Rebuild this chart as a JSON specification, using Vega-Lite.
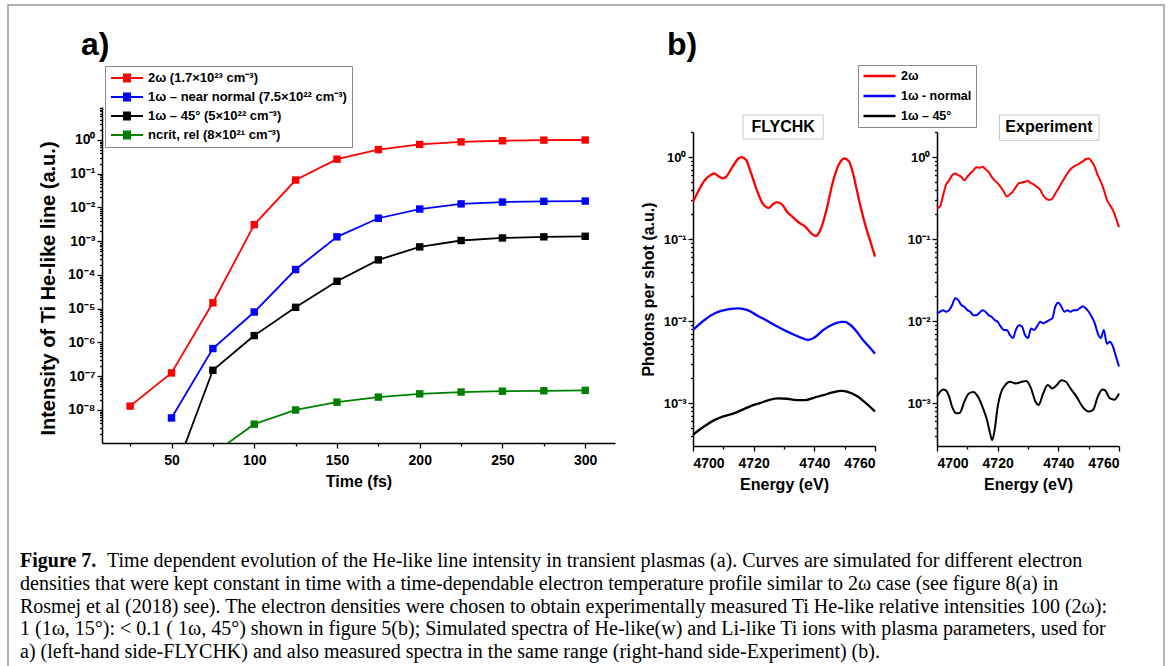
{
  "$schema": "https://vega.github.io/schema/vega-lite/v6.json",
  "background": "white",
  "padding": {"left": 7, "top": 4, "right": 7, "bottom": 0},
  "config": {
    "font": "Liberation Sans",
    "view": {"stroke": null},
    "axis": {"grid": false, "domainColor": "#000", "domainWidth": 1.5, "tickColor": "#000", "tickWidth": 1.3, "labelColor": "#000", "labelFont": "Liberation Sans", "labelFontWeight": "bold", "labelFontSize": 14, "titleColor": "#000", "titleFont": "Liberation Sans", "titleFontWeight": "bold", "titleFontSize": 16, "labelOverlap": false},
    "legend": {"labelFont": "Liberation Sans", "labelFontWeight": "bold", "labelFontSize": 12.5, "labelColor": "#000", "labelLimit": 400, "fillColor": "white", "strokeColor": "#8a8a8a", "strokeWidth": 1},
    "title": {"color": "#000", "font": "Liberation Sans"}
  },
  "datasets": {
    "a": [
      {"t": 25, "v": 1.3e-8, "s": "2ω (1.7×10²³ cm⁻³)"},
      {"t": 50, "v": 1.25e-7, "s": "2ω (1.7×10²³ cm⁻³)"},
      {"t": 75, "v": 1.5e-5, "s": "2ω (1.7×10²³ cm⁻³)"},
      {"t": 100, "v": 3.1e-3, "s": "2ω (1.7×10²³ cm⁻³)"},
      {"t": 125, "v": 0.065, "s": "2ω (1.7×10²³ cm⁻³)"},
      {"t": 150, "v": 0.27, "s": "2ω (1.7×10²³ cm⁻³)"},
      {"t": 175, "v": 0.52, "s": "2ω (1.7×10²³ cm⁻³)"},
      {"t": 200, "v": 0.74, "s": "2ω (1.7×10²³ cm⁻³)"},
      {"t": 225, "v": 0.88, "s": "2ω (1.7×10²³ cm⁻³)"},
      {"t": 250, "v": 0.95, "s": "2ω (1.7×10²³ cm⁻³)"},
      {"t": 275, "v": 0.99, "s": "2ω (1.7×10²³ cm⁻³)"},
      {"t": 300, "v": 1.0, "s": "2ω (1.7×10²³ cm⁻³)"},
      {"t": 50, "v": 5.8e-9, "s": "1ω – near normal (7.5×10²² cm⁻³)"},
      {"t": 75, "v": 6.6e-7, "s": "1ω – near normal (7.5×10²² cm⁻³)"},
      {"t": 100, "v": 8e-6, "s": "1ω – near normal (7.5×10²² cm⁻³)"},
      {"t": 125, "v": 1.45e-4, "s": "1ω – near normal (7.5×10²² cm⁻³)"},
      {"t": 150, "v": 1.35e-3, "s": "1ω – near normal (7.5×10²² cm⁻³)"},
      {"t": 175, "v": 4.8e-3, "s": "1ω – near normal (7.5×10²² cm⁻³)"},
      {"t": 200, "v": 9e-3, "s": "1ω – near normal (7.5×10²² cm⁻³)"},
      {"t": 225, "v": 0.0128, "s": "1ω – near normal (7.5×10²² cm⁻³)"},
      {"t": 250, "v": 0.0145, "s": "1ω – near normal (7.5×10²² cm⁻³)"},
      {"t": 275, "v": 0.0152, "s": "1ω – near normal (7.5×10²² cm⁻³)"},
      {"t": 300, "v": 0.0155, "s": "1ω – near normal (7.5×10²² cm⁻³)"},
      {"t": 50, "v": 8e-11, "s": "1ω – 45° (5×10²² cm⁻³)"},
      {"t": 75, "v": 1.5e-7, "s": "1ω – 45° (5×10²² cm⁻³)"},
      {"t": 100, "v": 1.6e-6, "s": "1ω – 45° (5×10²² cm⁻³)"},
      {"t": 125, "v": 1.1e-5, "s": "1ω – 45° (5×10²² cm⁻³)"},
      {"t": 150, "v": 6.5e-5, "s": "1ω – 45° (5×10²² cm⁻³)"},
      {"t": 175, "v": 2.8e-4, "s": "1ω – 45° (5×10²² cm⁻³)"},
      {"t": 200, "v": 6.8e-4, "s": "1ω – 45° (5×10²² cm⁻³)"},
      {"t": 225, "v": 1.05e-3, "s": "1ω – 45° (5×10²² cm⁻³)"},
      {"t": 250, "v": 1.25e-3, "s": "1ω – 45° (5×10²² cm⁻³)"},
      {"t": 275, "v": 1.35e-3, "s": "1ω – 45° (5×10²² cm⁻³)"},
      {"t": 300, "v": 1.4e-3, "s": "1ω – 45° (5×10²² cm⁻³)"},
      {"t": 75, "v": 5e-10, "s": "ncrit, rel (8×10²¹ cm⁻³)"},
      {"t": 100, "v": 3.8e-9, "s": "ncrit, rel (8×10²¹ cm⁻³)"},
      {"t": 125, "v": 1.0e-8, "s": "ncrit, rel (8×10²¹ cm⁻³)"},
      {"t": 150, "v": 1.7e-8, "s": "ncrit, rel (8×10²¹ cm⁻³)"},
      {"t": 175, "v": 2.4e-8, "s": "ncrit, rel (8×10²¹ cm⁻³)"},
      {"t": 200, "v": 3.0e-8, "s": "ncrit, rel (8×10²¹ cm⁻³)"},
      {"t": 225, "v": 3.4e-8, "s": "ncrit, rel (8×10²¹ cm⁻³)"},
      {"t": 250, "v": 3.6e-8, "s": "ncrit, rel (8×10²¹ cm⁻³)"},
      {"t": 275, "v": 3.7e-8, "s": "ncrit, rel (8×10²¹ cm⁻³)"},
      {"t": 300, "v": 3.8e-8, "s": "ncrit, rel (8×10²¹ cm⁻³)"}
    ],
    "fly": [
      {"E": 4700, "v": 0.285, "s": "2ω"}, {"E": 4702, "v": 0.40, "s": "2ω"}, {"E": 4704, "v": 0.53, "s": "2ω"}, {"E": 4706, "v": 0.61, "s": "2ω"}, {"E": 4707, "v": 0.63, "s": "2ω"}, {"E": 4708.5, "v": 0.58, "s": "2ω"}, {"E": 4710, "v": 0.55, "s": "2ω"}, {"E": 4711, "v": 0.58, "s": "2ω"}, {"E": 4713, "v": 0.76, "s": "2ω"}, {"E": 4715, "v": 0.96, "s": "2ω"}, {"E": 4716, "v": 1.0, "s": "2ω"}, {"E": 4717.5, "v": 0.92, "s": "2ω"}, {"E": 4719, "v": 0.66, "s": "2ω"}, {"E": 4721, "v": 0.40, "s": "2ω"}, {"E": 4723, "v": 0.27, "s": "2ω"}, {"E": 4725, "v": 0.24, "s": "2ω"}, {"E": 4726.5, "v": 0.27, "s": "2ω"}, {"E": 4728, "v": 0.28, "s": "2ω"}, {"E": 4729.5, "v": 0.26, "s": "2ω"}, {"E": 4731, "v": 0.215, "s": "2ω"}, {"E": 4733, "v": 0.184, "s": "2ω"}, {"E": 4735, "v": 0.158, "s": "2ω"}, {"E": 4737, "v": 0.142, "s": "2ω"}, {"E": 4739, "v": 0.117, "s": "2ω"}, {"E": 4740.5, "v": 0.109, "s": "2ω"}, {"E": 4742, "v": 0.129, "s": "2ω"}, {"E": 4744, "v": 0.226, "s": "2ω"}, {"E": 4746, "v": 0.48, "s": "2ω"}, {"E": 4748, "v": 0.80, "s": "2ω"}, {"E": 4750, "v": 0.96, "s": "2ω"}, {"E": 4751.5, "v": 0.88, "s": "2ω"}, {"E": 4753, "v": 0.58, "s": "2ω"}, {"E": 4755, "v": 0.27, "s": "2ω"}, {"E": 4757, "v": 0.14, "s": "2ω"}, {"E": 4759, "v": 0.081, "s": "2ω"}, {"E": 4760, "v": 0.061, "s": "2ω"},
      {"E": 4700, "v": 0.0078, "s": "1ω - normal"}, {"E": 4703, "v": 0.0098, "s": "1ω - normal"}, {"E": 4706, "v": 0.0118, "s": "1ω - normal"}, {"E": 4709, "v": 0.0132, "s": "1ω - normal"}, {"E": 4712, "v": 0.014, "s": "1ω - normal"}, {"E": 4715, "v": 0.0143, "s": "1ω - normal"}, {"E": 4718, "v": 0.0136, "s": "1ω - normal"}, {"E": 4721, "v": 0.0118, "s": "1ω - normal"}, {"E": 4724, "v": 0.0103, "s": "1ω - normal"}, {"E": 4727, "v": 0.0089, "s": "1ω - normal"}, {"E": 4730, "v": 0.0078, "s": "1ω - normal"}, {"E": 4733, "v": 0.0069, "s": "1ω - normal"}, {"E": 4736, "v": 0.0062, "s": "1ω - normal"}, {"E": 4738, "v": 0.0059, "s": "1ω - normal"}, {"E": 4740, "v": 0.0063, "s": "1ω - normal"}, {"E": 4743, "v": 0.0078, "s": "1ω - normal"}, {"E": 4746, "v": 0.0091, "s": "1ω - normal"}, {"E": 4749, "v": 0.0098, "s": "1ω - normal"}, {"E": 4750, "v": 0.0098, "s": "1ω - normal"}, {"E": 4752, "v": 0.0089, "s": "1ω - normal"}, {"E": 4754, "v": 0.0074, "s": "1ω - normal"}, {"E": 4756, "v": 0.0059, "s": "1ω - normal"}, {"E": 4758, "v": 0.0049, "s": "1ω - normal"}, {"E": 4760, "v": 0.0040, "s": "1ω - normal"},
      {"E": 4700, "v": 4.1e-4, "s": "1ω – 45°"}, {"E": 4702, "v": 4.7e-4, "s": "1ω – 45°"}, {"E": 4704, "v": 5.3e-4, "s": "1ω – 45°"}, {"E": 4707, "v": 6.2e-4, "s": "1ω – 45°"}, {"E": 4710, "v": 6.9e-4, "s": "1ω – 45°"}, {"E": 4713, "v": 7.4e-4, "s": "1ω – 45°"}, {"E": 4716, "v": 8.2e-4, "s": "1ω – 45°"}, {"E": 4719, "v": 9.2e-4, "s": "1ω – 45°"}, {"E": 4722, "v": 1.0e-3, "s": "1ω – 45°"}, {"E": 4725, "v": 1.09e-3, "s": "1ω – 45°"}, {"E": 4728, "v": 1.14e-3, "s": "1ω – 45°"}, {"E": 4731, "v": 1.13e-3, "s": "1ω – 45°"}, {"E": 4734, "v": 1.09e-3, "s": "1ω – 45°"}, {"E": 4737, "v": 1.09e-3, "s": "1ω – 45°"}, {"E": 4740, "v": 1.17e-3, "s": "1ω – 45°"}, {"E": 4743, "v": 1.25e-3, "s": "1ω – 45°"}, {"E": 4746, "v": 1.35e-3, "s": "1ω – 45°"}, {"E": 4749, "v": 1.41e-3, "s": "1ω – 45°"}, {"E": 4751, "v": 1.37e-3, "s": "1ω – 45°"}, {"E": 4754, "v": 1.22e-3, "s": "1ω – 45°"}, {"E": 4757, "v": 1.0e-3, "s": "1ω – 45°"}, {"E": 4760, "v": 7.9e-4, "s": "1ω – 45°"}
    ],
    "exp": [
      {"E": 4700, "v": 0.236, "s": "2ω"}, {"E": 4701, "v": 0.25, "s": "2ω"}, {"E": 4702, "v": 0.34, "s": "2ω"}, {"E": 4703, "v": 0.46, "s": "2ω"}, {"E": 4704, "v": 0.52, "s": "2ω"}, {"E": 4705, "v": 0.60, "s": "2ω"}, {"E": 4706, "v": 0.63, "s": "2ω"}, {"E": 4707, "v": 0.60, "s": "2ω"}, {"E": 4708, "v": 0.575, "s": "2ω"}, {"E": 4709, "v": 0.52, "s": "2ω"}, {"E": 4710, "v": 0.575, "s": "2ω"}, {"E": 4711, "v": 0.63, "s": "2ω"}, {"E": 4712, "v": 0.69, "s": "2ω"}, {"E": 4713, "v": 0.75, "s": "2ω"}, {"E": 4714, "v": 0.74, "s": "2ω"}, {"E": 4715, "v": 0.76, "s": "2ω"}, {"E": 4716, "v": 0.71, "s": "2ω"}, {"E": 4717, "v": 0.66, "s": "2ω"}, {"E": 4718, "v": 0.575, "s": "2ω"}, {"E": 4719, "v": 0.52, "s": "2ω"}, {"E": 4720, "v": 0.48, "s": "2ω"}, {"E": 4721, "v": 0.43, "s": "2ω"}, {"E": 4722, "v": 0.38, "s": "2ω"}, {"E": 4723, "v": 0.33, "s": "2ω"}, {"E": 4724, "v": 0.35, "s": "2ω"}, {"E": 4725, "v": 0.38, "s": "2ω"}, {"E": 4726, "v": 0.43, "s": "2ω"}, {"E": 4727, "v": 0.48, "s": "2ω"}, {"E": 4728, "v": 0.49, "s": "2ω"}, {"E": 4729, "v": 0.50, "s": "2ω"}, {"E": 4730, "v": 0.51, "s": "2ω"}, {"E": 4731, "v": 0.48, "s": "2ω"}, {"E": 4732, "v": 0.46, "s": "2ω"}, {"E": 4733, "v": 0.43, "s": "2ω"}, {"E": 4734, "v": 0.40, "s": "2ω"}, {"E": 4735, "v": 0.34, "s": "2ω"}, {"E": 4736, "v": 0.31, "s": "2ω"}, {"E": 4737, "v": 0.30, "s": "2ω"}, {"E": 4738, "v": 0.31, "s": "2ω"}, {"E": 4739, "v": 0.36, "s": "2ω"}, {"E": 4740, "v": 0.41, "s": "2ω"}, {"E": 4741, "v": 0.48, "s": "2ω"}, {"E": 4742, "v": 0.55, "s": "2ω"}, {"E": 4743, "v": 0.63, "s": "2ω"}, {"E": 4744, "v": 0.71, "s": "2ω"}, {"E": 4745, "v": 0.76, "s": "2ω"}, {"E": 4746, "v": 0.80, "s": "2ω"}, {"E": 4747, "v": 0.84, "s": "2ω"}, {"E": 4748, "v": 0.88, "s": "2ω"}, {"E": 4749, "v": 0.94, "s": "2ω"}, {"E": 4750, "v": 0.96, "s": "2ω"}, {"E": 4751, "v": 0.88, "s": "2ω"}, {"E": 4752, "v": 0.76, "s": "2ω"}, {"E": 4753, "v": 0.60, "s": "2ω"}, {"E": 4754, "v": 0.50, "s": "2ω"}, {"E": 4755, "v": 0.40, "s": "2ω"}, {"E": 4756, "v": 0.30, "s": "2ω"}, {"E": 4757, "v": 0.26, "s": "2ω"}, {"E": 4758, "v": 0.225, "s": "2ω"}, {"E": 4759, "v": 0.18, "s": "2ω"}, {"E": 4760, "v": 0.14, "s": "2ω"},
      {"E": 4700, "v": 0.0124, "s": "1ω - normal"}, {"E": 4701, "v": 0.013, "s": "1ω - normal"}, {"E": 4702, "v": 0.0136, "s": "1ω - normal"}, {"E": 4703, "v": 0.013, "s": "1ω - normal"}, {"E": 4704, "v": 0.0136, "s": "1ω - normal"}, {"E": 4705, "v": 0.0157, "s": "1ω - normal"}, {"E": 4706, "v": 0.019, "s": "1ω - normal"}, {"E": 4707, "v": 0.018, "s": "1ω - normal"}, {"E": 4708, "v": 0.0157, "s": "1ω - normal"}, {"E": 4709, "v": 0.015, "s": "1ω - normal"}, {"E": 4710, "v": 0.0136, "s": "1ω - normal"}, {"E": 4711, "v": 0.013, "s": "1ω - normal"}, {"E": 4712, "v": 0.0118, "s": "1ω - normal"}, {"E": 4713, "v": 0.0118, "s": "1ω - normal"}, {"E": 4714, "v": 0.0126, "s": "1ω - normal"}, {"E": 4715, "v": 0.0136, "s": "1ω - normal"}, {"E": 4716, "v": 0.013, "s": "1ω - normal"}, {"E": 4717, "v": 0.0118, "s": "1ω - normal"}, {"E": 4718, "v": 0.0113, "s": "1ω - normal"}, {"E": 4719, "v": 0.0103, "s": "1ω - normal"}, {"E": 4720, "v": 0.0098, "s": "1ω - normal"}, {"E": 4721, "v": 0.0086, "s": "1ω - normal"}, {"E": 4722, "v": 0.0078, "s": "1ω - normal"}, {"E": 4723, "v": 0.0078, "s": "1ω - normal"}, {"E": 4724, "v": 0.0068, "s": "1ω - normal"}, {"E": 4725, "v": 0.0062, "s": "1ω - normal"}, {"E": 4726, "v": 0.0078, "s": "1ω - normal"}, {"E": 4727, "v": 0.0089, "s": "1ω - normal"}, {"E": 4728, "v": 0.0086, "s": "1ω - normal"}, {"E": 4729, "v": 0.0068, "s": "1ω - normal"}, {"E": 4730, "v": 0.0062, "s": "1ω - normal"}, {"E": 4731, "v": 0.0081, "s": "1ω - normal"}, {"E": 4732, "v": 0.0078, "s": "1ω - normal"}, {"E": 4733, "v": 0.0086, "s": "1ω - normal"}, {"E": 4734, "v": 0.0098, "s": "1ω - normal"}, {"E": 4735, "v": 0.0094, "s": "1ω - normal"}, {"E": 4736, "v": 0.0098, "s": "1ω - normal"}, {"E": 4737, "v": 0.0103, "s": "1ω - normal"}, {"E": 4738, "v": 0.0108, "s": "1ω - normal"}, {"E": 4739, "v": 0.015, "s": "1ω - normal"}, {"E": 4740, "v": 0.0167, "s": "1ω - normal"}, {"E": 4741, "v": 0.015, "s": "1ω - normal"}, {"E": 4742, "v": 0.013, "s": "1ω - normal"}, {"E": 4743, "v": 0.0136, "s": "1ω - normal"}, {"E": 4744, "v": 0.013, "s": "1ω - normal"}, {"E": 4745, "v": 0.0136, "s": "1ω - normal"}, {"E": 4746, "v": 0.0136, "s": "1ω - normal"}, {"E": 4747, "v": 0.0143, "s": "1ω - normal"}, {"E": 4748, "v": 0.0152, "s": "1ω - normal"}, {"E": 4749, "v": 0.0143, "s": "1ω - normal"}, {"E": 4750, "v": 0.013, "s": "1ω - normal"}, {"E": 4751, "v": 0.0113, "s": "1ω - normal"}, {"E": 4752, "v": 0.0094, "s": "1ω - normal"}, {"E": 4753, "v": 0.0071, "s": "1ω - normal"}, {"E": 4754, "v": 0.0062, "s": "1ω - normal"}, {"E": 4755, "v": 0.0078, "s": "1ω - normal"}, {"E": 4756, "v": 0.0053, "s": "1ω - normal"}, {"E": 4757, "v": 0.0056, "s": "1ω - normal"}, {"E": 4758, "v": 0.0049, "s": "1ω - normal"}, {"E": 4759, "v": 0.0037, "s": "1ω - normal"}, {"E": 4760, "v": 0.0028, "s": "1ω - normal"},
      {"E": 4700, "v": 1.2e-3, "s": "1ω – 45°"}, {"E": 4701, "v": 1.37e-3, "s": "1ω – 45°"}, {"E": 4702, "v": 1.47e-3, "s": "1ω – 45°"}, {"E": 4703, "v": 1.42e-3, "s": "1ω – 45°"}, {"E": 4704, "v": 1.2e-3, "s": "1ω – 45°"}, {"E": 4705, "v": 9.0e-4, "s": "1ω – 45°"}, {"E": 4706.5, "v": 7.5e-4, "s": "1ω – 45°"}, {"E": 4707.5, "v": 7.6e-4, "s": "1ω – 45°"}, {"E": 4709, "v": 1.04e-3, "s": "1ω – 45°"}, {"E": 4710.5, "v": 1.31e-3, "s": "1ω – 45°"}, {"E": 4712, "v": 1.37e-3, "s": "1ω – 45°"}, {"E": 4713.5, "v": 1.2e-3, "s": "1ω – 45°"}, {"E": 4715, "v": 9.0e-4, "s": "1ω – 45°"}, {"E": 4716.5, "v": 6.2e-4, "s": "1ω – 45°"}, {"E": 4717.5, "v": 4.27e-4, "s": "1ω – 45°"}, {"E": 4718.2, "v": 3.55e-4, "s": "1ω – 45°"}, {"E": 4719, "v": 4.7e-4, "s": "1ω – 45°"}, {"E": 4720, "v": 9.0e-4, "s": "1ω – 45°"}, {"E": 4721, "v": 1.31e-3, "s": "1ω – 45°"}, {"E": 4722.5, "v": 1.66e-3, "s": "1ω – 45°"}, {"E": 4724, "v": 1.82e-3, "s": "1ω – 45°"}, {"E": 4726, "v": 1.74e-3, "s": "1ω – 45°"}, {"E": 4728, "v": 1.82e-3, "s": "1ω – 45°"}, {"E": 4729.5, "v": 1.86e-3, "s": "1ω – 45°"}, {"E": 4731, "v": 1.51e-3, "s": "1ω – 45°"}, {"E": 4732.5, "v": 1.04e-3, "s": "1ω – 45°"}, {"E": 4733.5, "v": 9.5e-4, "s": "1ω – 45°"}, {"E": 4735, "v": 1.31e-3, "s": "1ω – 45°"}, {"E": 4736.5, "v": 1.66e-3, "s": "1ω – 45°"}, {"E": 4738, "v": 1.51e-3, "s": "1ω – 45°"}, {"E": 4739.5, "v": 1.66e-3, "s": "1ω – 45°"}, {"E": 4741, "v": 1.9e-3, "s": "1ω – 45°"}, {"E": 4742.5, "v": 1.82e-3, "s": "1ω – 45°"}, {"E": 4744, "v": 1.51e-3, "s": "1ω – 45°"}, {"E": 4746, "v": 1.2e-3, "s": "1ω – 45°"}, {"E": 4748, "v": 9.0e-4, "s": "1ω – 45°"}, {"E": 4750, "v": 7.9e-4, "s": "1ω – 45°"}, {"E": 4751.5, "v": 8.3e-4, "s": "1ω – 45°"}, {"E": 4753, "v": 1.2e-3, "s": "1ω – 45°"}, {"E": 4754.5, "v": 1.47e-3, "s": "1ω – 45°"}, {"E": 4755.5, "v": 1.42e-3, "s": "1ω – 45°"}, {"E": 4757, "v": 1.14e-3, "s": "1ω – 45°"}, {"E": 4758.5, "v": 1.1e-3, "s": "1ω – 45°"}, {"E": 4760, "v": 1.31e-3, "s": "1ω – 45°"}
    ],
    "capBold": [{"line": 1, "text": "Figure 7."}],
    "capFirst": [{"line": 1, "text": "Time dependent evolution of the He-like line intensity in transient plasmas (a). Curves are simulated for different electron"}],
    "capRest": [
      {"line": 2, "text": "densities that were kept constant in time with a time-dependable electron temperature profile similar to 2ω case (see figure 8(a) in"},
      {"line": 3, "text": "Rosmej et al (2018) see). The electron densities were chosen to obtain experimentally measured Ti He-like relative intensities 100 (2ω):"},
      {"line": 4, "text": "1 (1ω, 15°): < 0.1 ( 1ω, 45°) shown in figure 5(b); Simulated spectra of He-like(w) and Li-like Ti ions with plasma parameters, used for"},
      {"line": 5, "text": "a) (left-hand side-FLYCHK) and also measured spectra in the same range (right-hand side-Experiment) (b)."}
    ]
  },
  "columns": 4,
  "align": "none",
  "bounds": "flush",
  "spacing": -1156,
  "resolve": {"scale": {"color": "independent"}, "legend": {"color": "independent"}},
  "concat": [
    {
      "width": 1156,
      "height": 664,
      "view": {"stroke": "#9a9a9a", "strokeWidth": 1.5},
      "encoding": {
        "x": {"datum": 0, "type": "quantitative", "scale": {"domain": [0, 1], "range": [12, 1156]}, "axis": null},
        "y": {"field": "line", "type": "quantitative", "scale": {"domain": [1, 5], "range": [556, 647]}, "axis": null},
        "text": {"field": "text"}
      },
      "layer": [
        {"data": {"name": "capBold"}, "mark": {"type": "text", "align": "left", "baseline": "middle", "font": "Liberation Serif", "fontSize": 20, "fontWeight": "bold", "color": "#000"}},
        {"data": {"name": "capFirst"}, "mark": {"type": "text", "align": "left", "baseline": "middle", "font": "Liberation Serif", "fontSize": 20, "color": "#000", "dx": 87}},
        {"data": {"name": "capRest"}, "mark": {"type": "text", "align": "left", "baseline": "middle", "font": "Liberation Serif", "fontSize": 20, "color": "#000"}}
      ]
    },
    {
      "width": 1156,
      "height": 438,
      "title": {"text": "a)", "anchor": "start", "frame": "group", "fontSize": 32, "fontWeight": "bold", "dx": 73, "offset": -82, "baseline": "alphabetic"},
      "data": {"name": "a"},
      "encoding": {
        "x": {"field": "t", "type": "quantitative", "scale": {"domain": [8, 318], "range": [94, 607], "nice": false, "zero": false},
          "axis": {"orient": "bottom", "title": "Time (fs)", "values": [25, 50, 75, 100, 125, 150, 175, 200, 225, 250, 275, 300], "labelExpr": "datum.value % 50 === 0 ? datum.label : ''", "tickSize": {"condition": {"test": "datum.value % 50 === 0", "value": 5}, "value": 3}, "labelPadding": 5, "titlePadding": 6}},
        "y": {"field": "v", "type": "quantitative", "scale": {"type": "log", "domain": [1.05e-9, 9.5], "range": [438, 102], "nice": false},
          "axis": {"orient": "left", "offset": -94, "title": "Intensity of Ti He-like line (a.u.)", "titleFontSize": 20, "titlePadding": 9, "titleY": 283, "labelPadding": 2,
            "values": [2e-9, 3e-9, 4e-9, 5e-9, 6e-9, 7e-9, 8e-9, 9e-9, 1e-8, 2e-8, 3e-8, 4e-8, 5e-8, 6e-8, 7e-8, 8e-8, 9e-8, 1e-7, 2e-7, 3e-7, 4e-7, 5e-7, 6e-7, 7e-7, 8e-7, 9e-7, 1e-6, 2e-6, 3e-6, 4e-6, 5e-6, 6e-6, 7e-6, 8e-6, 9e-6, 1e-5, 2e-5, 3e-5, 4e-5, 5e-5, 6e-5, 7e-5, 8e-5, 9e-5, 1e-4, 2e-4, 3e-4, 4e-4, 5e-4, 6e-4, 7e-4, 8e-4, 9e-4, 0.001, 0.002, 0.003, 0.004, 0.005, 0.006, 0.007, 0.008, 0.009, 0.01, 0.02, 0.03, 0.04, 0.05, 0.06, 0.07, 0.08, 0.09, 0.1, 0.2, 0.3, 0.4, 0.5, 0.6, 0.7, 0.8, 0.9, 1, 2, 3, 4, 5, 6, 7, 8, 9],
            "labelExpr": "abs(datum.value / pow(10, round(log(datum.value) / LN10)) - 1) < 1e-6 ? '10' + (round(log(datum.value) / LN10) < 0 ? '⁻' : '') + substring('⁰¹²³⁴⁵⁶⁷⁸⁹', abs(round(log(datum.value) / LN10)), abs(round(log(datum.value) / LN10)) + 1) : ''",
            "tickSize": {"condition": {"test": "abs(datum.value / pow(10, round(log(datum.value) / LN10)) - 1) < 1e-6", "value": 5}, "value": 2.5}}},
        "color": {"field": "s", "type": "nominal",
          "scale": {"domain": ["2ω (1.7×10²³ cm⁻³)", "1ω – near normal (7.5×10²² cm⁻³)", "1ω – 45° (5×10²² cm⁻³)", "ncrit, rel (8×10²¹ cm⁻³)"], "range": ["#ff0000", "#0000ff", "#000000", "#008000"]},
          "legend": {"orient": "none", "legendX": 97, "legendY": 61, "title": null, "symbolType": "M-1,0H1M-0.25,-0.22H0.25M-0.25,-0.11H0.25M-0.25,0H0.25M-0.25,0.11H0.25M-0.25,0.22H0.25", "symbolSize": 1024, "symbolStrokeWidth": 1.8, "clipHeight": 14, "padding": 5, "rowPadding": 5, "labelOffset": 4, "labelFontSize": 13}}
      },
      "layer": [
        {"mark": {"type": "line", "clip": true, "strokeWidth": 1.8}},
        {"mark": {"type": "point", "shape": "square", "filled": true, "size": 55, "opacity": 1, "clip": true}}
      ]
    },
    {
      "width": 1156,
      "height": 441,
      "title": {"text": "b)", "anchor": "start", "frame": "group", "fontSize": 32, "fontWeight": "bold", "dx": 659, "offset": -82, "baseline": "alphabetic"},
      "layer": [
        {
          "data": {"name": "fly"},
          "mark": {"type": "line", "interpolate": "monotone", "strokeWidth": 2.3},
          "encoding": {
            "x": {"field": "E", "type": "quantitative", "scale": {"domain": [4700, 4760], "range": [685, 867], "nice": false, "zero": false},
              "axis": {"orient": "bottom", "title": "Energy (eV)", "values": [4700, 4710, 4720, 4730, 4740, 4750, 4760], "labelExpr": "datum.value % 20 === 0 ? format(datum.value, 'd') : ''", "tickSize": {"condition": {"test": "datum.value % 20 === 0", "value": 5}, "value": 3}, "labelFontSize": 14, "labelPadding": 5, "titlePadding": 6}},
            "y": {"field": "v", "type": "quantitative", "scale": {"type": "log", "domain": [3e-4, 2.02], "range": [441, 127], "nice": false},
              "axis": {"orient": "left", "offset": -685, "title": "Photons per shot (a.u.)", "titlePadding": 7, "labelPadding": 2, "labelFontSize": 13,
                "values": [4e-4, 5e-4, 6e-4, 7e-4, 8e-4, 9e-4, 0.001, 0.002, 0.003, 0.004, 0.005, 0.006, 0.007, 0.008, 0.009, 0.01, 0.02, 0.03, 0.04, 0.05, 0.06, 0.07, 0.08, 0.09, 0.1, 0.2, 0.3, 0.4, 0.5, 0.6, 0.7, 0.8, 0.9, 1, 2],
                "labelExpr": "abs(datum.value / pow(10, round(log(datum.value) / LN10)) - 1) < 1e-6 ? '10' + (round(log(datum.value) / LN10) < 0 ? '⁻' : '') + substring('⁰¹²³⁴⁵⁶⁷⁸⁹', abs(round(log(datum.value) / LN10)), abs(round(log(datum.value) / LN10)) + 1) : ''",
                "tickSize": {"condition": {"test": "abs(datum.value / pow(10, round(log(datum.value) / LN10)) - 1) < 1e-6", "value": 5}, "value": 2.5}}},
            "color": {"field": "s", "type": "nominal", "scale": {"domain": ["2ω", "1ω - normal", "1ω – 45°"], "range": ["#ff0000", "#0000ff", "#000000"]}, "legend": null}
          }
        },
        {
          "data": {"values": [{}]},
          "mark": {"type": "rect", "fill": "white", "stroke": "#c8c8c8", "strokeWidth": 1},
          "encoding": {
            "x": {"datum": 4716.5, "type": "quantitative"}, "x2": {"datum": 4742.9},
            "y": {"datum": 3.25, "type": "quantitative"}, "y2": {"datum": 1.66}
          }
        },
        {
          "data": {"values": [{}]},
          "mark": {"type": "text", "text": "FLYCHK", "fontSize": 16, "fontWeight": "bold", "font": "Liberation Sans", "color": "#000", "baseline": "middle"},
          "encoding": {
            "x": {"datum": 4729.7, "type": "quantitative"},
            "y": {"datum": 2.32, "type": "quantitative"}
          }
        }
      ]
    },
    {
      "width": 1156,
      "height": 441,
      "layer": [
        {
          "data": {"name": "exp"},
          "mark": {"type": "line", "interpolate": "monotone", "strokeWidth": 2},
          "encoding": {
            "x": {"field": "E", "type": "quantitative", "scale": {"domain": [4700, 4760], "range": [929, 1111], "nice": false, "zero": false},
              "axis": {"orient": "bottom", "title": "Energy (eV)", "values": [4700, 4710, 4720, 4730, 4740, 4750, 4760], "labelExpr": "datum.value % 20 === 0 ? format(datum.value, 'd') : ''", "tickSize": {"condition": {"test": "datum.value % 20 === 0", "value": 5}, "value": 3}, "labelFontSize": 14, "labelPadding": 5, "titlePadding": 6}},
            "y": {"field": "v", "type": "quantitative", "scale": {"type": "log", "domain": [3e-4, 2.02], "range": [441, 127], "nice": false},
              "axis": {"orient": "left", "offset": -929, "title": "", "labelPadding": 2, "labelFontSize": 13,
                "values": [4e-4, 5e-4, 6e-4, 7e-4, 8e-4, 9e-4, 0.001, 0.002, 0.003, 0.004, 0.005, 0.006, 0.007, 0.008, 0.009, 0.01, 0.02, 0.03, 0.04, 0.05, 0.06, 0.07, 0.08, 0.09, 0.1, 0.2, 0.3, 0.4, 0.5, 0.6, 0.7, 0.8, 0.9, 1, 2],
                "labelExpr": "abs(datum.value / pow(10, round(log(datum.value) / LN10)) - 1) < 1e-6 ? '10' + (round(log(datum.value) / LN10) < 0 ? '⁻' : '') + substring('⁰¹²³⁴⁵⁶⁷⁸⁹', abs(round(log(datum.value) / LN10)), abs(round(log(datum.value) / LN10)) + 1) : ''",
                "tickSize": {"condition": {"test": "abs(datum.value / pow(10, round(log(datum.value) / LN10)) - 1) < 1e-6", "value": 5}, "value": 2.5}}},
            "color": {"field": "s", "type": "nominal", "scale": {"domain": ["2ω", "1ω - normal", "1ω – 45°"], "range": ["#ff0000", "#0000ff", "#000000"]},
              "legend": {"orient": "none", "legendX": 850, "legendY": 60, "title": null, "symbolType": "stroke", "symbolSize": 1024, "symbolStrokeWidth": 2.5, "clipHeight": 14, "padding": 4, "rowPadding": 6, "labelOffset": 4}}
          }
        },
        {
          "data": {"values": [{}]},
          "mark": {"type": "rect", "fill": "white", "stroke": "#c8c8c8", "strokeWidth": 1},
          "encoding": {
            "x": {"datum": 4720.6, "type": "quantitative"}, "x2": {"datum": 4753.4},
            "y": {"datum": 3.25, "type": "quantitative"}, "y2": {"datum": 1.6}
          }
        },
        {
          "data": {"values": [{}]},
          "mark": {"type": "text", "text": "Experiment", "fontSize": 16, "fontWeight": "bold", "font": "Liberation Sans", "color": "#000", "baseline": "middle"},
          "encoding": {
            "x": {"datum": 4736.9, "type": "quantitative"},
            "y": {"datum": 2.3, "type": "quantitative"}
          }
        }
      ]
    }
  ]
}
